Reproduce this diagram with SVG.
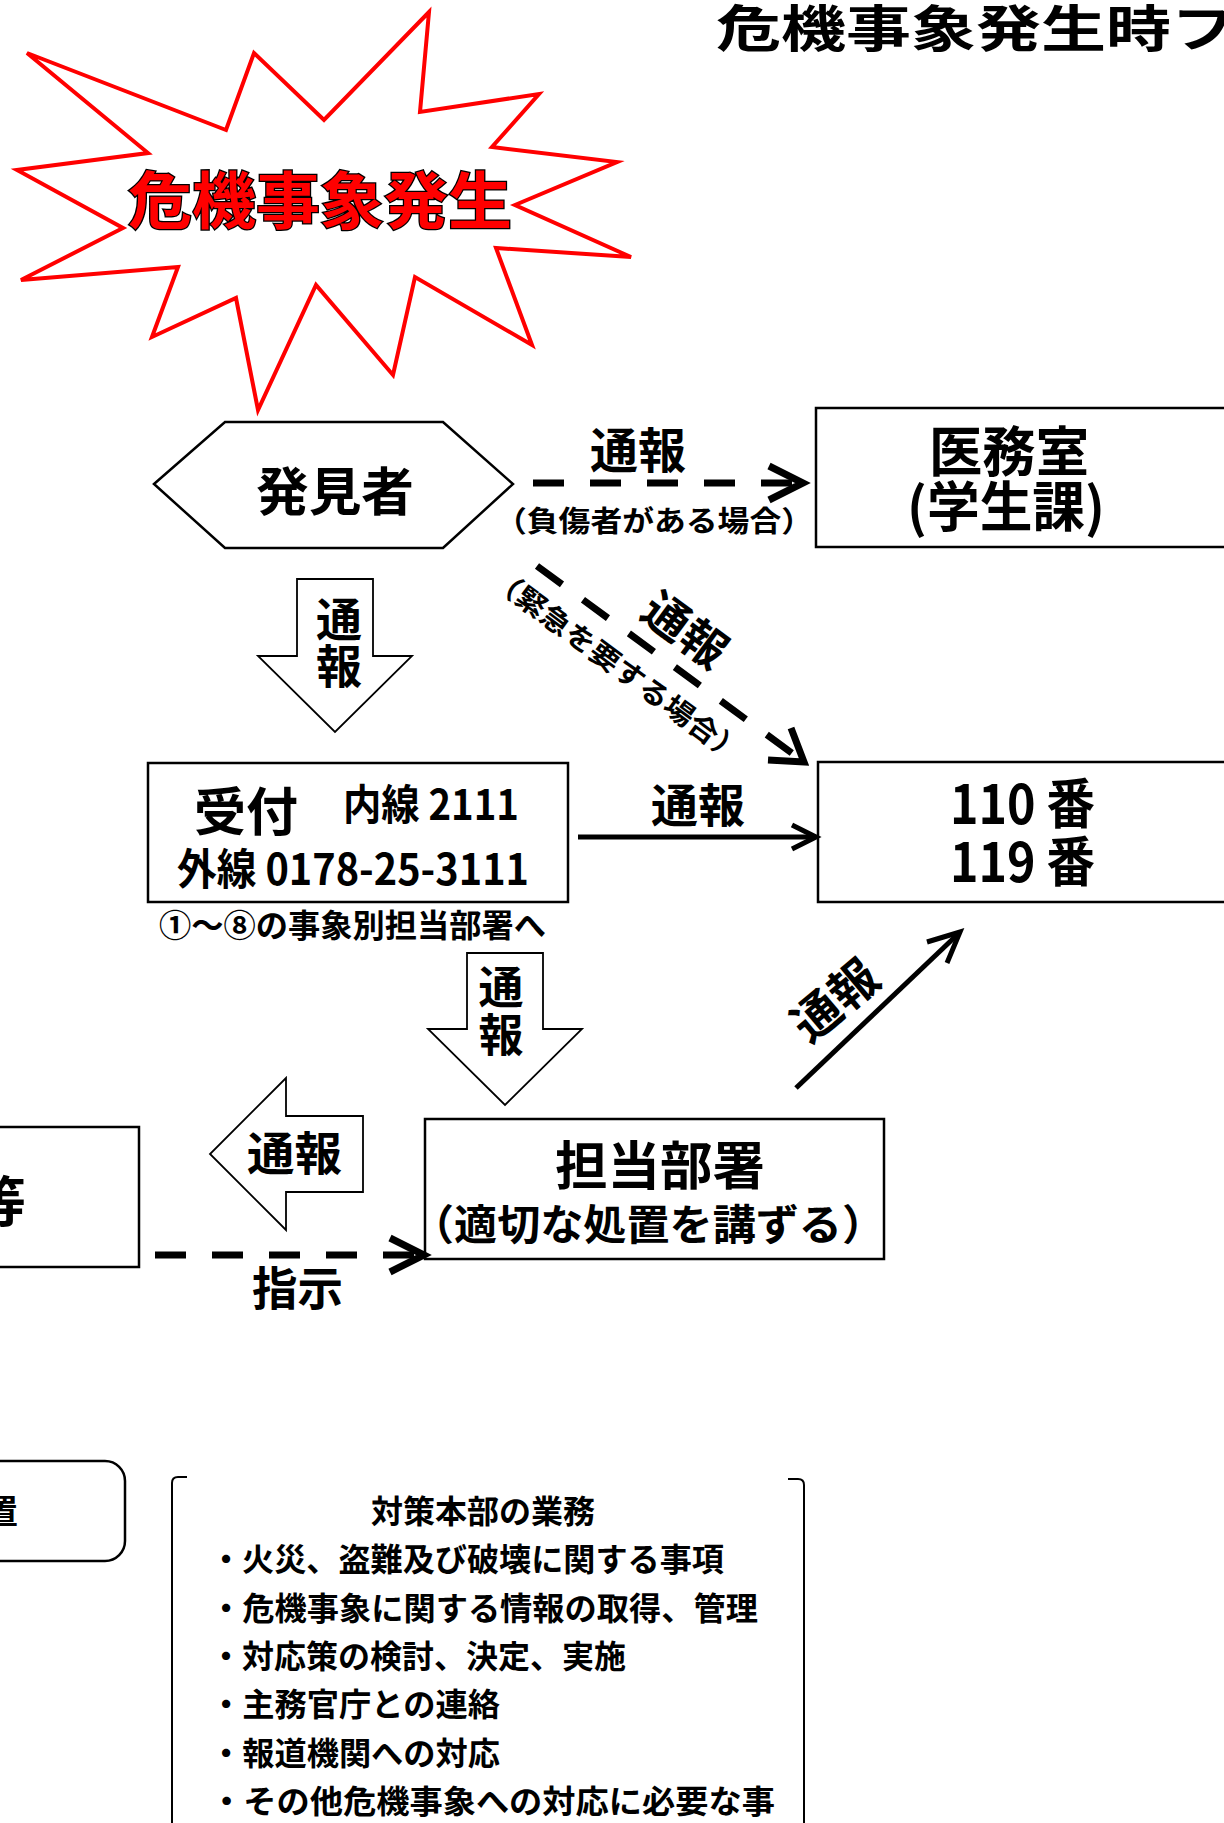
<svg xmlns="http://www.w3.org/2000/svg" width="1224" height="1823" viewBox="0 0 1224 1823">
<style>
text{font-family:"Noto Sans CJK JP","Noto Sans CJK SC",sans-serif;font-weight:bold;fill:#000}
.box{fill:#fff;stroke:#000;stroke-width:2.5}
.blk{fill:#fff;stroke:#000;stroke-width:1.8;stroke-linejoin:miter}
.dash{fill:none;stroke:#000;stroke-width:7;stroke-dasharray:31 26}
.solid{fill:none;stroke:#000;stroke-width:5}
.headD{fill:none;stroke:#000;stroke-width:7;stroke-linejoin:miter;stroke-linecap:butt}
.headS{fill:none;stroke:#000;stroke-width:5;stroke-linejoin:miter}
.brk{fill:none;stroke:#000;stroke-width:2}
</style>
<rect width="1224" height="1823" fill="#fff"/>

<g id="title">
<text x="716" y="47" font-size="50" font-weight="900" textLength="520" lengthAdjust="spacingAndGlyphs">危機事象発生時フ</text>
</g>

<g id="starburst">
<polygon points="27,53 226,130 254,53 324,120 429,12 420,112 539,94 492,147 617,162 515,205 631,257 496,248 532,345 415,277 393,375 316,285 258,410 236,298 152,337 178,267 21,280 123,228 17,170 148,153" fill="#fff" stroke="#ff0000" stroke-width="4" stroke-linejoin="miter"/>
<text x="128" y="224" font-size="62" textLength="384" lengthAdjust="spacingAndGlyphs" style="fill:#ff0000;stroke:#000;stroke-width:2.5;paint-order:stroke">危機事象発生</text>
</g>

<g id="discoverer">
<polygon class="box" points="154,484 225,422 443,422 513,484 443,548 225,548"/>
<text x="335" y="511" font-size="52" text-anchor="middle" textLength="158" lengthAdjust="spacingAndGlyphs">発見者</text>
</g>

<g id="medical">
<rect class="box" x="816" y="408" width="430" height="139"/>
<text font-size="54" text-anchor="middle"><tspan x="1009" y="472" textLength="160" lengthAdjust="spacingAndGlyphs">医務室</tspan><tspan x="1006" y="527" textLength="198" lengthAdjust="spacingAndGlyphs">(学生課)</tspan></text>
</g>

<g id="reception">
<rect class="box" x="148" y="763" width="420" height="139"/>
<text><tspan x="194" y="831" font-size="52" textLength="104" lengthAdjust="spacingAndGlyphs">受付</tspan><tspan x="343" y="820" font-size="42" textLength="176" lengthAdjust="spacingAndGlyphs">内線 2111</tspan><tspan x="177" y="885" font-size="43" textLength="352" lengthAdjust="spacingAndGlyphs">外線 0178-25-3111</tspan></text>
<text x="159" y="937" font-size="32" textLength="387" lengthAdjust="spacingAndGlyphs">①～⑧の事象別担当部署へ</text>
</g>

<g id="police">
<rect class="box" x="818" y="762" width="430" height="140"/>
<text font-size="54"><tspan x="950" y="824" textLength="145" lengthAdjust="spacingAndGlyphs">110 番</tspan><tspan x="950" y="882" textLength="145" lengthAdjust="spacingAndGlyphs">119 番</tspan></text>
</g>

<g id="department">
<rect class="box" x="425" y="1119" width="459" height="140"/>
<text text-anchor="middle"><tspan x="660" y="1185" font-size="52" textLength="210" lengthAdjust="spacingAndGlyphs">担当部署</tspan><tspan x="648" y="1240" font-size="42" textLength="474" lengthAdjust="spacingAndGlyphs">（適切な処置を講ずる）</tspan></text>
</g>

<g id="hq">
<rect class="box" x="-10" y="1127" width="149" height="140"/>
<text x="-28" y="1222" font-size="54">等</text>
</g>

<g id="setup">
<rect class="box" x="-40" y="1461" width="165" height="100" rx="20" ry="20"/>
<text x="-16" y="1524" font-size="34">置</text>
</g>

<g id="hq-duties">
<path class="brk" d="M187,1477 H178 Q172,1477 172,1483 V1830"/>
<path class="brk" d="M788,1479 H798 Q804,1479 804,1485 V1830"/>
<text x="371" y="1523" font-size="32" textLength="224" lengthAdjust="spacingAndGlyphs">対策本部の業務</text>
<text x="210" y="1571" font-size="32" textLength="514" lengthAdjust="spacingAndGlyphs">・火災、盗難及び破壊に関する事項</text>
<text x="210" y="1620" font-size="32" textLength="548" lengthAdjust="spacingAndGlyphs">・危機事象に関する情報の取得、管理</text>
<text x="210" y="1668" font-size="32" textLength="416" lengthAdjust="spacingAndGlyphs">・対応策の検討、決定、実施</text>
<text x="210" y="1716" font-size="32" textLength="290" lengthAdjust="spacingAndGlyphs">・主務官庁との連絡</text>
<text x="210" y="1765" font-size="32" textLength="290" lengthAdjust="spacingAndGlyphs">・報道機関への対応</text>
<text x="210" y="1813" font-size="32" textLength="565" lengthAdjust="spacingAndGlyphs">・その他危機事象への対応に必要な事</text>
</g>

<g id="connectors">
<line class="dash" x1="533" y1="483" x2="800" y2="483"/>
<polyline class="headD" points="769,466 803,483 769,500"/>
<text x="638" y="468" font-size="48" text-anchor="middle" textLength="96" lengthAdjust="spacingAndGlyphs">通報</text>
<text x="654" y="532" font-size="29" text-anchor="middle" textLength="318" lengthAdjust="spacingAndGlyphs">（負傷者がある場合）</text>

<polygon class="blk" points="297,579 373,579 373,656 412,656 335,732 258,656 297,656"/>
<text font-size="46" text-anchor="middle"><tspan x="339" y="636">通</tspan><tspan x="339" y="683">報</tspan></text>

<line class="dash" x1="537" y1="566" x2="800" y2="759"/>
<polyline class="headD" points="791,728 804,762 768,760"/>
<g transform="translate(686,629) rotate(36.4)">
<text x="0" y="18" font-size="46" text-anchor="middle">通報</text>
</g>
<g transform="translate(618,665) rotate(36.4)">
<text x="0" y="11" font-size="28" text-anchor="middle" textLength="306" lengthAdjust="spacingAndGlyphs">（緊急を要する場合）</text>
</g>

<line class="solid" x1="578" y1="837" x2="814" y2="837"/>
<polyline class="headS" points="792,825 816,837 792,849"/>
<text x="651" y="822" font-size="46" textLength="94" lengthAdjust="spacingAndGlyphs">通報</text>

<polygon class="blk" points="467,953 543,953 543,1029 582,1029 505,1105 428,1029 467,1029"/>
<text font-size="45" text-anchor="middle"><tspan x="501" y="1004">通</tspan><tspan x="501" y="1052">報</tspan></text>

<line class="solid" x1="796" y1="1088" x2="957" y2="935"/>
<polyline class="headS" points="927,942 960,932 947,963"/>
<g transform="translate(834,999) rotate(-40)">
<text x="0" y="19" font-size="48" text-anchor="middle">通報</text>
</g>

<polygon class="blk" points="363,1116 286,1116 286,1078 210,1154 286,1230 286,1192 363,1192"/>
<text x="247" y="1170" font-size="46" textLength="95" lengthAdjust="spacingAndGlyphs">通報</text>

<line class="dash" x1="155" y1="1255" x2="420" y2="1255"/>
<polyline class="headD" points="390,1238 424,1255 390,1272"/>
<text x="252" y="1305" font-size="46" textLength="91" lengthAdjust="spacingAndGlyphs">指示</text>
</g>
</svg>
